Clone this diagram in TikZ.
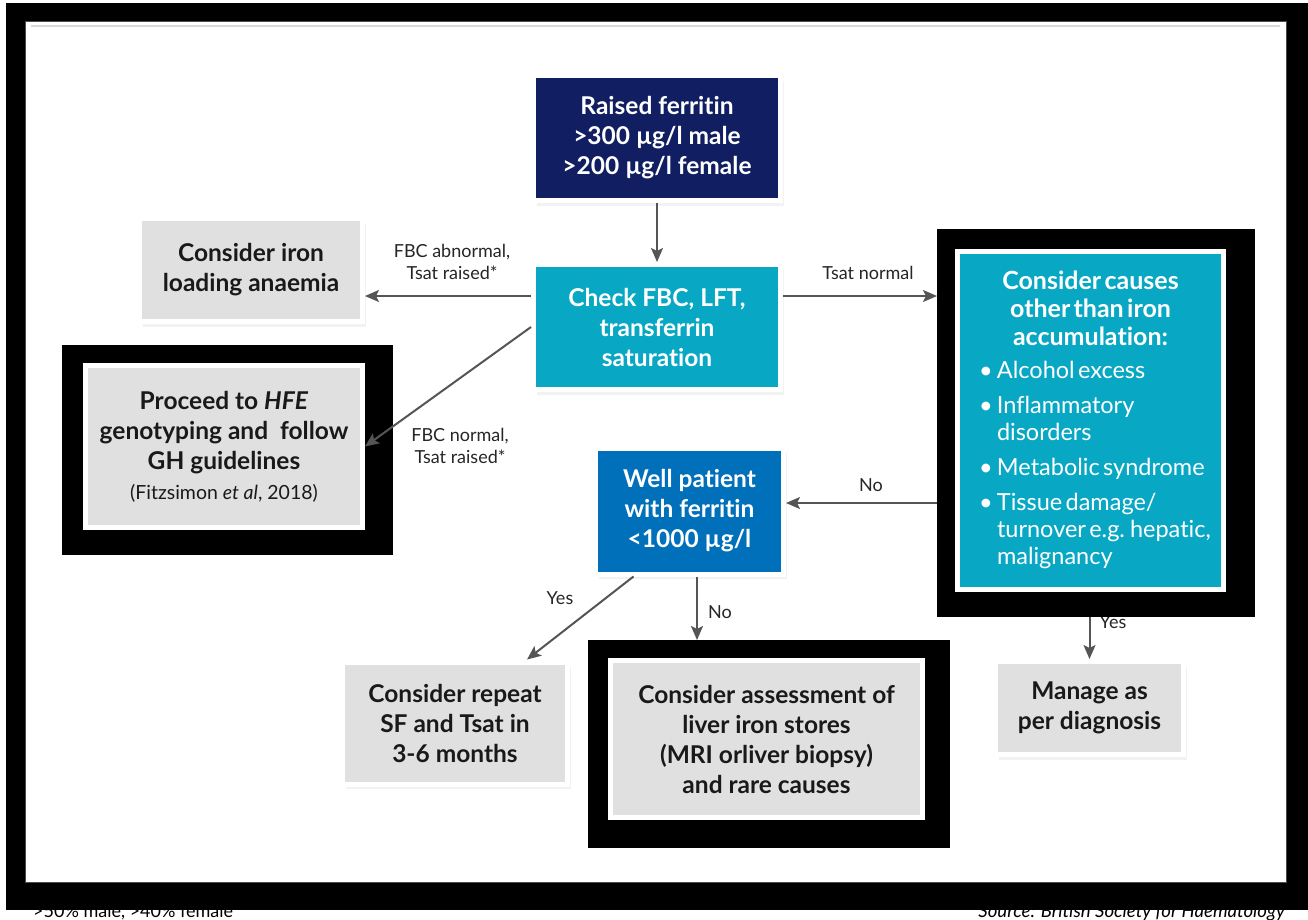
\documentclass[tikz,border=0pt]{standalone}
\usepackage{fontspec}
\setmainfont{Lato}[Ligatures=NoCommon]
\usetikzlibrary{arrows.meta,shadows,calc}
\definecolor{navybox}{RGB}{17,31,98}
\definecolor{tealbox}{RGB}{8,168,196}
\definecolor{bluebox}{RGB}{0,112,186}
\definecolor{greybox}{RGB}{224,224,224}
\definecolor{arrowc}{RGB}{85,85,85}
\newcommand\citem[1]{\par\vspace{8pt}\hangindent=34.5pt\hangafter=1\noindent\makebox[34.5pt][l]{\hspace{16.5pt}\textbullet}#1}
\begin{document}
\begin{tikzpicture}[x=1pt,y=-1pt,
  box/.style={rectangle, draw=white, line width=5pt, align=center, inner sep=0pt,
    font=\fontsize{24.5}{30}\selectfont\bfseries},
  shad/.style={drop shadow={opacity=0.10, shadow xshift=3pt, shadow yshift=-5pt}},
  navyb/.style={box, shad, fill=navybox, text=white},
  tealb/.style={box, shad, fill=tealbox, text=white},
  blueb/.style={box, shad, fill=bluebox, text=white},
  greyb/.style={box, shad, fill=greybox, text=black!90},
  greyplain/.style={box, fill=greybox, text=black!90},
  blkframe/.style={rectangle, fill=black, draw=none, inner sep=0pt, outer sep=0pt},
  lab/.style={font=\fontsize{18}{22.5}\selectfont, text=black!85, align=center, inner sep=0pt},
  arr/.style={draw=arrowc, line width=2pt, -{Stealth[length=14pt,width=12pt,inset=3pt]}},
]
\useasboundingbox (0,0) rectangle (1308,919);

% footer texts (partly hidden under the frame)
\node[anchor=base west, inner sep=0pt, font=\fontsize{18}{20}\selectfont] (foot1) at (33,917) {>50\% male, >40\% female};
\node[anchor=base east, inner sep=0pt, font=\fontsize{18.6}{20}\selectfont\itshape] (foot2) at (1285,917) {Source: British Society for Haematology};

% outer frame
\fill[black] (6,3) rectangle (1308,910);
\fill[white] (25,21) rectangle (1286,882);
\draw[black!70, line width=0.8pt] (25,21) rectangle (1286,882);
\draw[black!15, line width=1.5pt] (31,26) -- (1280,26);

% edge labels
\node[lab] (lab1) at (452,262) {FBC abnormal,\\Tsat raised*};
\node[lab] (lab2) at (460,446) {FBC normal,\\Tsat raised*};
\node[lab] (lab3) at (868,273) {Tsat normal};
\node[lab] (lab4) at (871,485) {No};
\node[lab] (lab5) at (560,598) {Yes};
\node[lab] (lab6) at (720,612) {No};
\node[lab] (lab7) at (1113,622) {Yes};

% black frames
\node[blkframe, minimum width=331pt, minimum height=210pt] (hfeF) at (227.5,450) {};
\node[blkframe, minimum width=318pt, minimum height=388pt] (causesF) at (1096,423) {};
\node[blkframe, minimum width=362pt, minimum height=208pt] (assessF) at (769,744) {};

% boxes
\node[navyb, minimum width=247pt, minimum height=125pt] (raised) at (657,138)
  {Raised ferritin\\>300 µg/l male\\>200 µg/l female};
\node[tealb, minimum width=247pt, minimum height=125pt] (check) at (657,327)
  {Check FBC, LFT,\\transferrin\\saturation};
\node[greyb, minimum width=223pt, minimum height=103pt] (iron) at (251,270)
  {Consider iron\\loading anaemia};
\node[greyplain, minimum width=277pt, minimum height=162pt] (hfe) at (224,446.5)
  {Proceed to \textit{HFE}\\genotyping and\ \ follow\\GH guidelines\\{\mdseries\fontsize{19.5}{30}\selectfont (Fitzsimon \textit{et al}, 2018)}};
\node[rectangle, draw=white, line width=5pt, inner sep=0pt, fill=tealbox, text=white,
      minimum width=266pt, minimum height=338pt, text width=256pt] (causes) at (1090.5,420)
  {{\centering\fontsize{25}{28}\selectfont\bfseries Consider causes\\other than iron\\accumulation:\par}%
   \vspace{-2pt}{\raggedright\fontsize{23.5}{27}\selectfont
   \citem{Alcohol excess}
   \citem{Inflammatory\newline disorders}
   \citem{Metabolic syndrome}
   \citem{Tissue damage/\newline turnover e.g. hepatic,\newline malignancy}\par}};
\node[blueb, minimum width=188pt, minimum height=126pt] (well) at (689.5,511)
  {Well patient\\with ferritin\\<1000 µg/l};
\node[greyb, minimum width=225pt, minimum height=122pt] (repeat) at (455,723)
  {Consider repeat\\SF and Tsat in\\3-6 months};
\node[greyplain, minimum width=312pt, minimum height=157pt] (assess) at (766.5,739)
  {Consider assessment of\\liver iron stores\\(MRI orliver biopsy)\\and rare causes};
\node[greyb, minimum width=188pt, minimum height=93pt] (manage) at (1089.5,708)
  {Manage as\\per diagnosis};

% connectors
\draw[arr] (raised) -- (check);
\draw[arr] ([yshift=31pt]check.west) -- ([yshift=-26pt]iron.east);
\draw[arr] (check.west) -- (hfe.east);
\coordinate (c1) at ([yshift=31pt]check.east);
\draw[arr] (c1) -- (c1 -| causesF.west);
\coordinate (w1) at ([yshift=8pt]well.east);
\draw[arr] (w1 -| causesF.west) -- (w1);
\draw[arr] ([xshift=-56pt]well.south) -- ([xshift=72pt]repeat.north);
\coordinate (w2) at ([xshift=7.5pt]well.south);
\draw[arr] (w2) -- (w2 |- assessF.north);
\draw[arr] (manage.north |- causesF.south) -- (manage.north);
\end{tikzpicture}
\end{document}
